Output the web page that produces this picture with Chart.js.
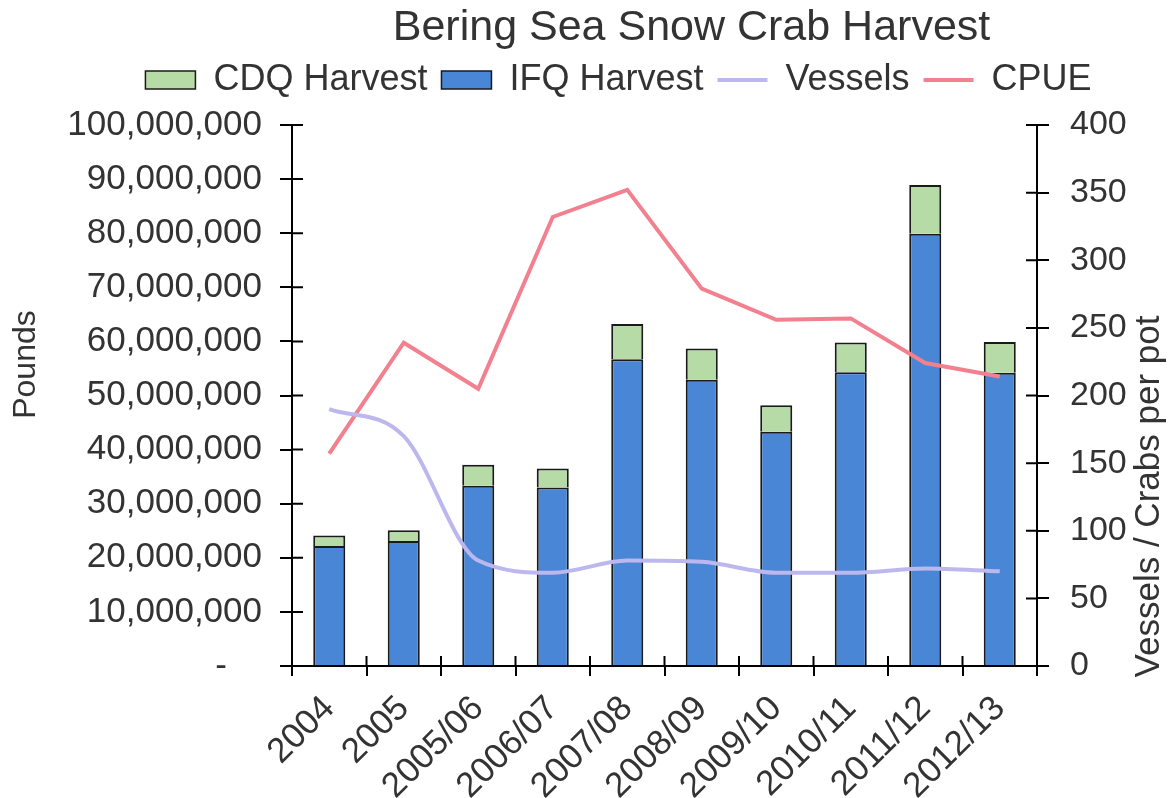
<!DOCTYPE html>
<html>
<head>
<meta charset="utf-8">
<title>Bering Sea Snow Crab Harvest</title>
<script src="https://cdn.jsdelivr.net/npm/chart.js@4.4.1/dist/chart.umd.min.js"></script>
<style>
  html, body { margin: 0; padding: 0; background: #fff; }
</style>
</head>
<body>
<canvas id="crab" width="1173" height="798"></canvas>
<script>
// values (pounds; vessels and crabs per pot)
const seasons = ["2004", "2005", "2005/06", "2006/07", "2007/08", "2008/09", "2009/10", "2010/11", "2011/12", "2012/13"];
const ifqPounds = [22200000, 23100000, 33300000, 33000000, 56700000, 52900000, 43300000, 54300000, 79900000, 54200000];
const cdqPounds = [1900000, 2000000, 3900000, 3500000, 6500000, 5800000, 4900000, 5500000, 9000000, 5700000];
const vessels = [190, 170, 78, 69, 78, 77, 69, 69, 72, 70];
const cpue = [157, 239, 205, 332, 352, 279, 256, 257, 224, 214];

const chartTitle = "Bering Sea Snow Crab Harvest";
const leftTitle = "Pounds";
const rightTitle = "Vessels / Crabs per pot";

const FONT = "'Liberation Sans', Arial, sans-serif";
const INK = "#333";
Chart.defaults.font.family = FONT;
Chart.defaults.color = INK;

const legendOrder = [1, 0, 2, 3];

const extras = {
  id: "extras",
  beforeLayout(chart) {
    // a bit of room between legend and plot
    const lg = chart.legend;
    if (lg && !lg._gap) {
      const fit = lg.fit;
      lg.fit = function () { fit.call(this); this.height += 17; };
      lg._gap = true;
    }
  },
  afterDraw(chart) {
    const { ctx, chartArea: a, scales } = chart;
    ctx.save();
    // ticks cross the axes like in excel
    ctx.strokeStyle = "#000";
    ctx.lineWidth = 2;
    ctx.beginPath();
    scales.y.ticks.forEach(t => {
      const py = scales.y.getPixelForValue(t.value);
      ctx.moveTo(a.left, py); ctx.lineTo(a.left + 11, py);
    });
    scales.y1.ticks.forEach(t => {
      const py = scales.y1.getPixelForValue(t.value);
      ctx.moveTo(a.right - 11, py); ctx.lineTo(a.right, py);
    });
    for (let i = 0; i <= seasons.length; i++) {
      const px = scales.x.getPixelForValue(i - 0.5);
      ctx.moveTo(px, a.bottom - 10); ctx.lineTo(px, a.bottom);
    }
    ctx.stroke();

    ctx.fillStyle = INK;
    ctx.textAlign = "center";
    ctx.textBaseline = "middle";
    ctx.font = "43px " + FONT;
    ctx.fillText(chartTitle, (a.left + a.right) / 2 + 27, 28);

    ctx.font = "32px " + FONT;
    ctx.save();
    ctx.translate(26, (a.top + a.bottom) / 2 - 31);
    ctx.rotate(-Math.PI / 2);
    ctx.fillText(leftTitle, 0, 0);
    ctx.restore();

    ctx.font = "35px " + FONT;
    ctx.save();
    ctx.translate(chart.width - 24, (a.top + a.bottom) / 2 + 101);
    ctx.rotate(-Math.PI / 2);
    ctx.fillText(rightTitle, 0, 0);
    ctx.restore();
    ctx.restore();
  }
};

new Chart(document.getElementById("crab"), {
  type: "bar",
  data: {
    labels: seasons,
    datasets: [
      {
        label: "IFQ Harvest",
        data: ifqPounds,
        backgroundColor: "#4a86d6",
        borderColor: "#1a1a1a",
        borderWidth: 2,
        yAxisID: "y",
        order: 2,
      },
      {
        label: "CDQ Harvest",
        data: cdqPounds,
        backgroundColor: "#b6dba6",
        borderColor: "#1a1a1a",
        borderWidth: 2,
        yAxisID: "y",
        order: 2,
      },
      {
        type: "line",
        label: "Vessels",
        data: vessels,
        borderColor: "#bcb8ef",
        borderWidth: 4,
        pointRadius: 0,
        pointHoverRadius: 0,
        cubicInterpolationMode: "monotone",
        yAxisID: "y1",
        order: 1,
      },
      {
        type: "line",
        label: "CPUE",
        data: cpue,
        borderColor: "#f2808f",
        borderWidth: 4,
        pointRadius: 0,
        pointHoverRadius: 0,
        tension: 0,
        yAxisID: "y1",
        order: 1,
      },
    ],
  },
  options: {
    responsive: false,
    animation: false,
    layout: { padding: { top: 48, left: 64, right: 0, bottom: 0 } },
    plugins: {
      title: { display: false },
      tooltip: { enabled: false },
      legend: {
        position: "top",
        labels: {
          font: { size: 36 },
          color: INK,
          usePointStyle: true,
          pointStyleWidth: 50,
          boxHeight: 18,
          padding: 14,
          sort: (a, b) => legendOrder[a.datasetIndex] - legendOrder[b.datasetIndex],
          generateLabels(chart) {
            const items = Chart.defaults.plugins.legend.labels.generateLabels(chart);
            items.forEach(it => {
              const ds = chart.data.datasets[it.datasetIndex];
              if (ds.type === "line") {
                it.pointStyle = "line";
                it.strokeStyle = ds.borderColor;
                it.lineWidth = ds.borderWidth;
              } else {
                it.pointStyle = "rect";
                it.fillStyle = ds.backgroundColor;
                it.strokeStyle = ds.borderColor;
                it.lineWidth = 1.5;
              }
            });
            return items;
          },
        },
      },
    },
    datasets: {
      bar: { barPercentage: 0.43, categoryPercentage: 1.0 },
    },
    scales: {
      x: {
        stacked: true,
        offset: true,
        grid: { offset: true, drawOnChartArea: false, drawTicks: true, tickLength: 10, color: "#000", lineWidth: 2 },
        border: { color: "#000", width: 2 },
        ticks: { font: { size: 35 }, color: INK, minRotation: 45, maxRotation: 45, padding: 12 },
        afterFit(scale) { scale.height = 132; },
      },
      y: {
        stacked: true,
        position: "left",
        min: 0,
        max: 100000000,
        grid: { drawOnChartArea: false, tickLength: 12, color: "#000", lineWidth: 2 },
        border: { color: "#000", width: 2 },
        ticks: {
          stepSize: 10000000,
          font: { size: 35 },
          color: INK,
          padding: 18,
          callback: v => (v === 0 ? "-\u2002\u2002" : v.toLocaleString("en-US")),
        },
        afterFit(scale) { scale.width = 228; },
      },
      y1: {
        position: "right",
        min: 0,
        max: 400,
        grid: { drawOnChartArea: false, tickLength: 12, color: "#000", lineWidth: 2 },
        border: { color: "#000", width: 2 },
        ticks: { stepSize: 50, font: { size: 34 }, color: INK, padding: 21 },
        afterFit(scale) { scale.width = 136; },
      },
    },
  },
  plugins: [extras],
});
</script>
</body>
</html>
